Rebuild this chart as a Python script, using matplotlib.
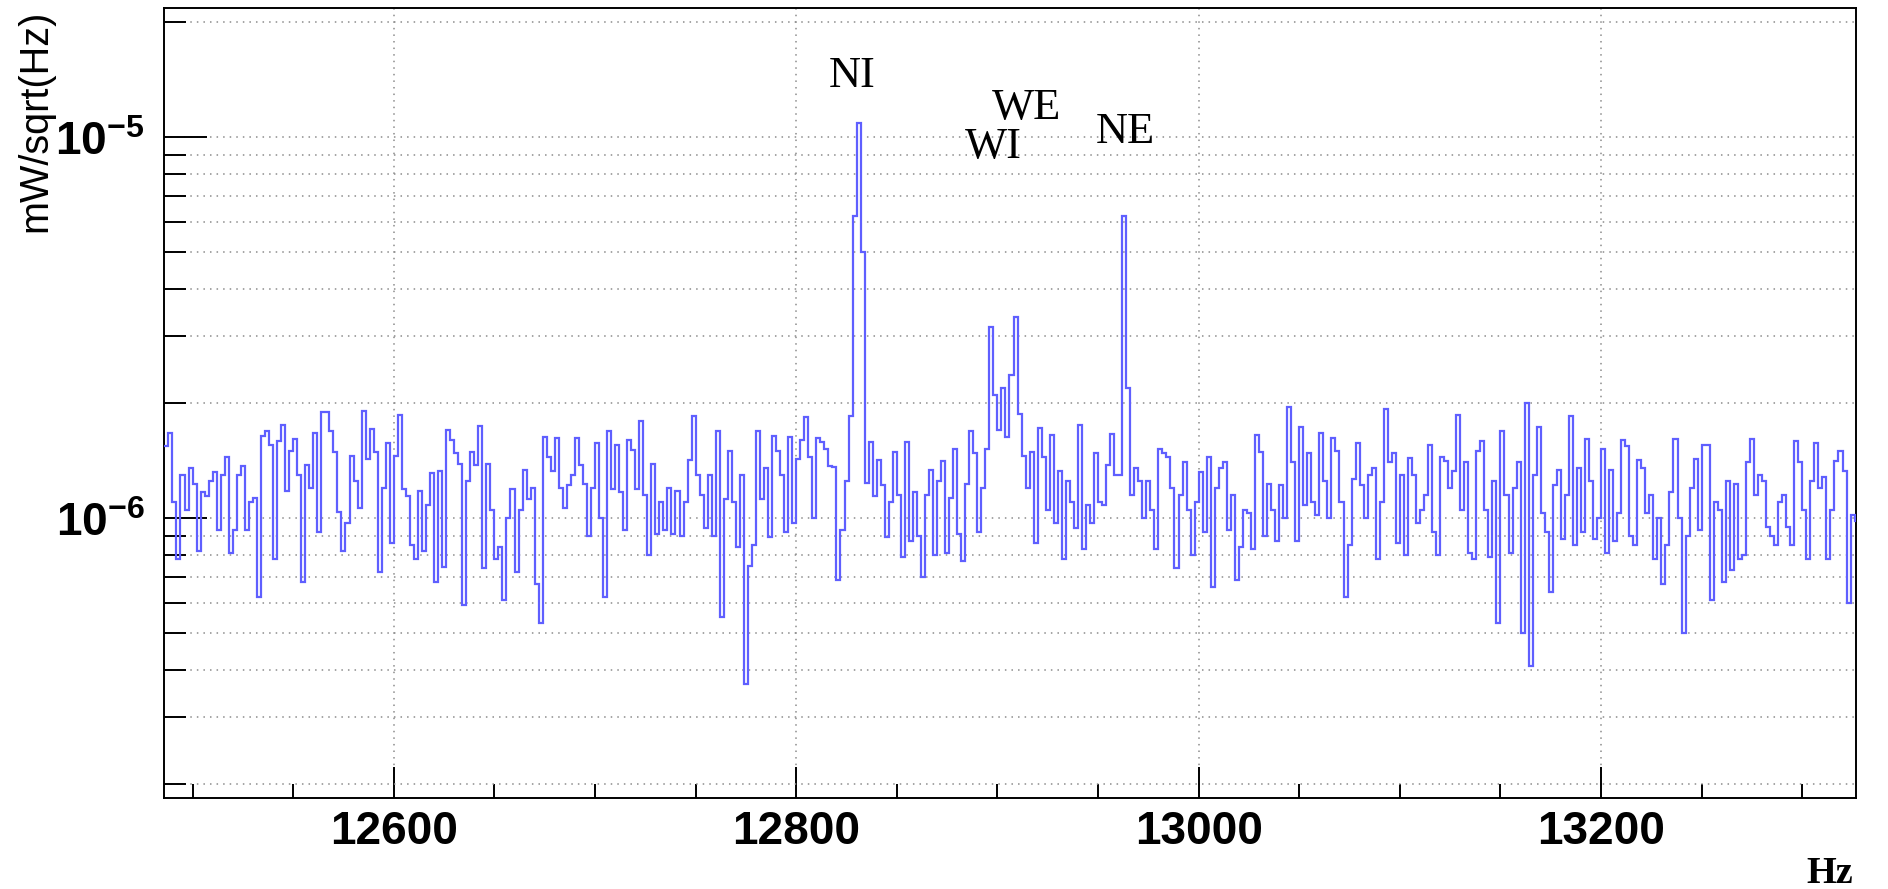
import numpy as np
import matplotlib
matplotlib.use("Agg")
import matplotlib.pyplot as plt
from matplotlib.ticker import FixedLocator, FixedFormatter, LogLocator, NullFormatter, MultipleLocator

# spectrum, 2 Hz bins starting at 12486 Hz, values in units of 1e-6 mW/sqrt(Hz)
bin_start = 12486
bin_width = 2

seg_12486 = [1.55, 1.67, 1.1, 0.78, 1.3, 1.05, 1.35, 1.23, 0.82, 1.17,
             1.14, 1.25, 1.32, 0.93, 1.3, 1.45, 0.81, 0.93, 1.3, 1.37,
             0.93, 1.1, 1.13, 0.62, 1.64, 1.69, 1.56, 0.78, 1.59, 1.76,
             1.18, 1.5, 1.61, 1.3, 0.68, 1.38, 1.2, 1.67, 0.92, 1.9,
             1.9, 1.69, 1.49, 1.04, 0.82, 0.97, 1.46, 1.25, 1.06, 1.91,
             1.43, 1.71, 1.49, 0.72, 1.2, 1.57, 0.86, 1.46, 1.87, 1.19,
             1.14, 0.85, 0.78, 1.18, 0.82, 1.08, 1.31, 0.68, 1.33, 0.745,
             1.7]
seg_12628 = [1.6, 1.48, 1.39, 0.59, 1.25, 1.49, 1.38, 1.74, 0.74, 1.39,
             1.05, 0.78, 0.84, 0.61, 1.0, 1.19, 0.72, 1.05, 1.34, 1.12,
             1.2, 0.67, 0.53, 1.63, 1.45, 1.33, 1.62, 1.2, 1.06, 1.22,
             1.3, 1.62, 1.38, 1.23, 0.9, 1.2, 1.57, 1.0, 0.62, 1.69,
             1.19, 1.56, 1.17, 0.93, 1.6, 1.51, 1.19, 1.8, 1.15, 0.8,
             1.39, 0.91, 1.1, 0.93, 1.2, 0.91, 1.18, 0.9, 1.1, 1.42,
             1.85, 1.3, 1.15, 0.94, 1.3, 0.9, 1.69, 0.55, 1.12, 1.5]
seg_12768 = [1.1, 0.84, 1.3, 0.368, 0.75, 0.85, 1.69, 1.12, 1.35, 0.89,
             1.64, 1.5, 1.3, 0.92, 1.63, 0.97, 1.43, 1.6, 1.84, 1.45,
             1.0, 1.62, 1.58, 1.52, 1.37, 1.36, 0.69, 0.93, 1.25, 1.85,
             6.2, 10.87, 5.0, 1.24, 1.58, 1.14, 1.42, 1.22, 0.89, 1.1,
             1.49, 1.15, 0.79, 1.58, 0.87, 1.17, 0.9, 0.7, 1.15, 1.34,
             0.8, 1.25, 1.41, 0.81, 1.13, 1.52, 0.91, 0.77, 1.23, 1.69,
             1.48, 0.92, 1.2, 1.52, 3.18, 2.1, 1.7, 2.2, 1.63, 2.37,
             3.37, 1.88]
seg_12912 = [1.46, 1.2, 1.49, 0.86, 1.72, 1.45, 1.05, 1.65, 0.97, 1.33,
             0.78, 1.25, 1.1, 0.94, 1.76, 0.83, 1.08, 0.97, 1.48, 1.1,
             1.08, 1.38, 1.66, 1.3, 1.3, 6.22, 2.19, 1.15, 1.35, 1.25,
             1.0, 1.25, 1.05, 0.83, 1.52, 1.48, 1.45, 1.2, 0.74, 1.15,
             1.4, 1.05, 0.8, 1.1, 1.32, 0.92, 1.45, 0.66, 1.2, 1.35,
             1.4, 0.93, 1.15, 0.69, 0.84, 1.05, 1.03, 0.83, 1.65, 1.49,
             0.9, 1.23, 1.05, 0.87, 1.22, 1.0, 1.96]
seg_13046 = [1.4, 0.87, 1.73, 1.08, 1.48, 1.1, 1.02, 1.67, 1.25, 1.0,
             1.62, 1.5, 1.1, 0.62, 0.85, 1.27, 1.57, 1.22, 1.0, 1.3,
             1.35, 0.78, 1.1, 1.93, 1.4, 1.48, 0.86, 1.3, 0.8, 1.44,
             1.3, 0.97, 1.05, 1.15, 1.56, 0.92, 0.8, 1.45, 1.41, 1.2,
             1.33, 1.87, 1.05, 1.4, 0.81, 0.78, 1.5, 1.59, 1.05, 0.79,
             1.25, 0.53, 1.69, 1.15, 0.81, 1.2, 1.4, 0.5, 2.0, 0.41,
             1.3, 1.73, 1.03, 0.92, 0.64, 1.22, 1.34, 0.88, 1.15, 1.85]
seg_13186 = [0.85, 1.35, 0.92, 1.61, 1.25, 0.88, 1.0, 1.52, 0.81, 1.34,
             0.87, 1.03, 1.6, 1.55, 0.9, 0.85, 1.42, 1.35, 1.03, 1.15,
             0.78, 1.0, 0.67, 0.85, 1.17, 1.61, 1.0, 0.5, 0.9, 1.2,
             1.43, 0.93, 1.56, 1.56, 0.61, 1.1, 1.05, 0.68, 1.25, 0.73,
             1.23, 0.78, 0.8, 1.4, 1.61, 1.15, 1.3, 1.25, 0.95, 0.9,
             0.85, 1.1, 1.15, 0.95, 0.85, 1.59, 1.4, 1.05, 0.78, 1.25,
             1.57, 1.2, 1.28, 0.78, 1.05, 1.41, 1.5, 1.33, 0.6, 1.02,
             0.98]

peak_names = ["NI", "WE", "WI", "NE"]
peak_label_hz = [12816, 12897, 12884, 12949]
peak_label_val = [1.356e-5, 1.113e-5, 8.79e-6, 9.63e-6]

y_major = [1e-6, 1e-5]
y_major_labels = [r"$\mathbf{10^{-6}}$", r"$\mathbf{10^{-5}}$"]


def main():
    plt.rcParams["mathtext.fontset"] = "custom"
    plt.rcParams["mathtext.rm"] = "Liberation Sans"
    plt.rcParams["mathtext.bf"] = "Liberation Sans:bold"

    values = np.array(seg_12486 + seg_12628 + seg_12768 + seg_12912 + seg_13046 + seg_13186) * 1e-6
    edges = bin_start + bin_width * np.arange(len(values) + 1)

    fig = plt.figure(figsize=(18.88, 8.89), dpi=100)
    ax = fig.add_axes([164 / 1888, 1 - 797.7 / 889, 1692 / 1888, 789.7 / 889])

    ax.stairs(values, edges, baseline=None, color="#5f5fff", linewidth=1.6, zorder=3)

    ax.set_yscale("log")
    ax.set_xlim(12485.8, 13326.7)
    ax.set_ylim(1.846e-7, 2.182e-5)

    ax.yaxis.set_major_locator(FixedLocator(y_major))
    ax.yaxis.set_major_formatter(FixedFormatter(y_major_labels))
    ax.yaxis.set_minor_locator(LogLocator(base=10, subs=np.arange(2, 10)))
    ax.yaxis.set_minor_formatter(NullFormatter())
    ax.xaxis.set_major_locator(MultipleLocator(200))
    ax.xaxis.set_minor_locator(MultipleLocator(50))

    ax.tick_params(axis="y", which="major", direction="in", length=31, width=1.4, pad=14,
                   labelsize=33, right=False)
    ax.tick_params(axis="y", which="minor", direction="in", length=16, width=1.4, right=False)
    ax.tick_params(axis="x", which="major", direction="in", length=22, width=1.4, pad=9,
                   labelsize=33, top=False)
    ax.tick_params(axis="x", which="minor", direction="in", length=10, width=1.4, top=False)
    for lab in ax.get_xticklabels():
        lab.set_fontfamily("Liberation Sans")
        lab.set_fontweight("bold")

    grid_style = dict(color="#8c8c8c", linestyle=(0, (1, 3.3)), linewidth=1.1, zorder=1)
    ax.grid(True, which="both", axis="y", **grid_style)
    ax.grid(True, which="major", axis="x", **grid_style)
    ax.set_axisbelow(True)

    for sp in ax.spines.values():
        sp.set_linewidth(1.4)

    for name, hz, val in zip(peak_names, peak_label_hz, peak_label_val):
        ax.text(hz, val, name, fontsize=32, family="Liberation Serif", ha="left", va="baseline")

    fig.text(35 / 1888, 1 - 10 / 889, "mW/sqrt(Hz)", rotation=90, ha="center", va="top",
             fontsize=28.5, family="Liberation Sans")
    fig.text(1853 / 1888, 1 - 883 / 889, "Hz", ha="right", va="baseline",
             fontsize=27.5, family="Liberation Serif", fontweight="bold")

    fig.savefig("out.png", dpi=100)


if __name__ == "__main__":
    main()
